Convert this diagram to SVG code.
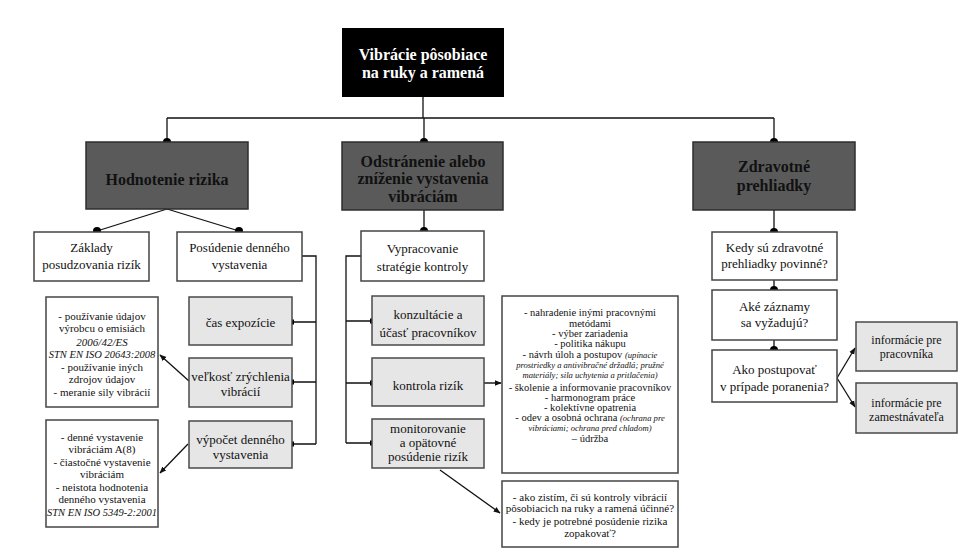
<svg xmlns="http://www.w3.org/2000/svg" width="966" height="553" viewBox="0 0 966 553">
<defs>
<style>
.t{font-family:"Liberation Serif","Times New Roman",serif;fill:#111;text-anchor:middle}
.w{fill:#fff}
.b{font-weight:bold;font-size:16px}
.m{font-size:13px}
.s{font-size:11px}
.l{font-size:10.5px}
.i{font-style:italic}
.xs{font-size:8.6px;font-style:italic}
.dark{fill:#5a5a5a;stroke:#2e2e2e;stroke-width:1.5}
.white{fill:#fff;stroke:#444;stroke-width:1.5}
.grey{fill:#e6e6e6;stroke:#4a4a4a;stroke-width:1.5}
.ln{fill:none;stroke:#111;stroke-width:1.3}
.dot{fill:#000}
</style>
<marker id="ar" viewBox="0 0 10 10" refX="9" refY="5" markerWidth="7" markerHeight="7" orient="auto" markerUnits="userSpaceOnUse"><path d="M0,1 L10,5 L0,9 z" fill="#111"/></marker>
</defs>
<rect width="966" height="553" fill="#fff"/>

<g id="connectors">
<path class="ln" d="M423,97 V118 M167,118 H774 M167,118 V142 M424,118 V142 M774,118 V142"/>
<path class="ln" d="M167,209 L97,231 M167,209 L239,231"/>
<path class="ln" d="M302,256 H316 V444 M292,322 H316 M292,382 H316 M292,444 H316"/>
<path class="ln" marker-end="url(#ar)" d="M189,381 L160,355"/>
<path class="ln" marker-end="url(#ar)" d="M188,444 L160,473"/>
<path class="ln" d="M424,210 V231"/>
<path class="ln" d="M361,256 H346 V443 M346,321 H372 M346,383 H372 M346,443 H372"/>
<path class="ln" style="stroke:#555;stroke-width:2" marker-end="url(#ar)" d="M484,383 H501"/>
<path class="ln" marker-end="url(#ar)" d="M440,470 L500,513"/>
<path class="ln" d="M774,210 V232 M774,280 V290 M774,340 V350"/>
<path class="ln" marker-end="url(#ar)" d="M837,378 L855,348"/>
<path class="ln" marker-end="url(#ar)" d="M837,378 L855,407"/>
<circle class="dot" cx="167" cy="142" r="4"/>
<circle class="dot" cx="424" cy="142" r="4"/>
<circle class="dot" cx="774" cy="142" r="4"/>
<circle class="dot" cx="97" cy="231" r="4"/>
<circle class="dot" cx="239" cy="231" r="4"/>
<circle class="dot" cx="424" cy="231" r="4"/>
<circle class="dot" cx="774" cy="232" r="4"/>
<circle class="dot" cx="774" cy="290" r="4"/>
<circle class="dot" cx="774" cy="350" r="4"/>
<rect x="289" y="319.5" width="5" height="5" fill="#000"/>
<rect x="289" y="379.5" width="5" height="5" fill="#000"/>
<rect x="289" y="441.5" width="5" height="5" fill="#000"/>
<rect x="370" y="318.5" width="5" height="5" fill="#000"/>
<rect x="370" y="380.5" width="5" height="5" fill="#000"/>
<rect x="370" y="440.5" width="5" height="5" fill="#000"/>
</g>

<g id="root">
<rect x="342" y="28" width="162" height="69" fill="#000"/>
<text class="t w b" x="423" y="60">Vibrácie pôsobiace</text>
<text class="t w b" x="423" y="78">na ruky a ramená</text>
</g>

<g id="hodnotenie">
<rect class="dark" x="86" y="142" width="162" height="67"/>
<text class="t b" x="167" y="185">Hodnotenie rizika</text>
</g>

<g id="odstranenie">
<rect class="dark" x="342" y="142" width="161" height="68"/>
<text class="t b" x="423" y="167">Odstránenie alebo</text>
<text class="t b" x="423" y="184">zníženie vystavenia</text>
<text class="t b" x="423" y="202">vibráciám</text>
</g>

<g id="zdravotne">
<rect class="dark" x="693" y="142" width="162" height="68"/>
<text class="t b" x="774" y="172">Zdravotné</text>
<text class="t b" x="774" y="191">prehliadky</text>
</g>

<g id="zaklady">
<rect class="white" x="34" y="232" width="115" height="49"/>
<text class="t m" x="91.5" y="252">Základy</text>
<text class="t m" x="91.5" y="269">posudzovania rizík</text>
</g>

<g id="posudenie">
<rect class="white" x="177" y="232" width="125" height="49"/>
<text class="t m" x="239.5" y="252">Posúdenie denného</text>
<text class="t m" x="239.5" y="269">vystavenia</text>
</g>

<g id="cas">
<rect class="grey" x="189" y="297" width="103" height="48"/>
<text class="t m" x="240.5" y="327">čas expozície</text>
</g>

<g id="velkost">
<rect class="grey" x="189" y="358" width="103" height="49"/>
<text class="t m" x="240.5" y="381">veľkosť zrýchlenia</text>
<text class="t m" x="240.5" y="396">vibrácií</text>
</g>

<g id="vypocet">
<rect class="grey" x="189" y="421" width="103" height="47"/>
<text class="t m" x="240.5" y="444">výpočet denného</text>
<text class="t m" x="240.5" y="459">vystavenia</text>
</g>

<g id="zdroje">
<rect class="white" x="46" y="297" width="112" height="110"/>
<text class="t s" x="102" y="320">- používanie údajov</text>
<text class="t s" x="102" y="332">výrobcu o emisiách</text>
<text class="t s i" x="102" y="346">2006/42/ES</text>
<text class="t l i" x="102" y="358">STN EN ISO 20643:2008</text>
<text class="t s" x="102" y="371">- používanie iných</text>
<text class="t s" x="102" y="383">zdrojov údajov</text>
<text class="t s" x="102" y="396">- meranie sily vibrácií</text>
</g>

<g id="denne">
<rect class="white" x="46" y="420" width="112" height="107"/>
<text class="t s" x="102" y="441">- denné vystavenie</text>
<text class="t s" x="102" y="453">vibráciám A(8)</text>
<text class="t s" x="102" y="466">- čiastočné vystavenie</text>
<text class="t s" x="102" y="478">vibráciám</text>
<text class="t s" x="102" y="491">- neistota hodnotenia</text>
<text class="t s" x="102" y="503">denného vystavenia</text>
<text class="t l i" x="102" y="516">STN EN ISO 5349-2:2001</text>
</g>

<g id="vypracovanie">
<rect class="white" x="361" y="231" width="123" height="50"/>
<text class="t m" x="422.5" y="253">Vypracovanie</text>
<text class="t m" x="422.5" y="271">stratégie kontroly</text>
</g>

<g id="konzultacie">
<rect class="grey" x="372" y="296" width="112" height="49"/>
<text class="t m" x="428" y="319">konzultácie a</text>
<text class="t m" x="428" y="337">účasť pracovníkov</text>
</g>

<g id="kontrola">
<rect class="grey" x="372" y="358" width="112" height="48"/>
<text class="t m" x="428" y="390">kontrola rizík</text>
</g>

<g id="monitorovanie">
<rect class="grey" x="372" y="419" width="112" height="49"/>
<text class="t m" x="428" y="433">monitorovanie</text>
<text class="t m" x="428" y="447">a opätovné</text>
<text class="t m" x="428" y="461">posúdenie rizík</text>
</g>

<g id="opatrenia">
<rect class="white" x="502" y="296" width="176" height="177"/>
<text class="t l" x="590" y="316">- nahradenie inými pracovnými</text>
<text class="t l" x="590" y="327">metódami</text>
<text class="t l" x="590" y="337">- výber zariadenia</text>
<text class="t l" x="590" y="347">- politika nákupu</text>
<text class="t l" x="590" y="358">- návrh úloh a postupov <tspan class="xs">(upínacie</tspan></text>
<text class="t xs" x="590" y="368">prostriedky a antivibračné držadlá; pružné</text>
<text class="t xs" x="590" y="378">materiály; sila uchytenia a pritlačenia)</text>
<text class="t l" x="590" y="391">- školenie a informovanie pracovníkov</text>
<text class="t l" x="590" y="401">- harmonogram práce</text>
<text class="t l" x="590" y="411">- kolektívne opatrenia</text>
<text class="t l" x="590" y="421">- odev a osobná ochrana <tspan class="xs">(ochrana pre</tspan></text>
<text class="t xs" x="590" y="431">vibráciami; ochrana pred chladom)</text>
<text class="t l" x="590" y="442">– údržba</text>
</g>

<g id="otazky">
<rect class="white" x="502" y="481" width="176" height="66"/>
<text class="t s" x="590" y="501">- ako zistím, či sú kontroly vibrácií</text>
<text class="t s" x="590" y="512">pôsobiacich na ruky a ramená účinné?</text>
<text class="t s" x="590" y="525">- kedy je potrebné posúdenie rizika</text>
<text class="t s" x="590" y="537">zopakovať?</text>
</g>

<g id="kedy">
<rect class="white" x="712" y="232" width="125" height="48"/>
<text class="t m" x="774.5" y="252">Kedy sú zdravotné</text>
<text class="t m" x="774.5" y="268">prehliadky povinné?</text>
</g>

<g id="zaznamy">
<rect class="white" x="712" y="290" width="125" height="50"/>
<text class="t m" x="774.5" y="311">Aké záznamy</text>
<text class="t m" x="774.5" y="327">sa vyžadujú?</text>
</g>

<g id="poranenie">
<rect class="white" x="712" y="350" width="125" height="52"/>
<text class="t m" x="774.5" y="374">Ako postupovať</text>
<text class="t m" x="774.5" y="391">v prípade poranenia?</text>
</g>

<g id="info-pracovnik">
<rect class="grey" x="856" y="322" width="101" height="49"/>
<text class="t" style="font-size:12px" x="906.5" y="344">informácie pre</text>
<text class="t" style="font-size:12px" x="906.5" y="358">pracovníka</text>
</g>

<g id="info-zamestnavatel">
<rect class="grey" x="856" y="383" width="101" height="50"/>
<text class="t" style="font-size:12px" x="906.5" y="407">informácie pre</text>
<text class="t" style="font-size:12px" x="906.5" y="421">zamestnávateľa</text>
</g>
</svg>
